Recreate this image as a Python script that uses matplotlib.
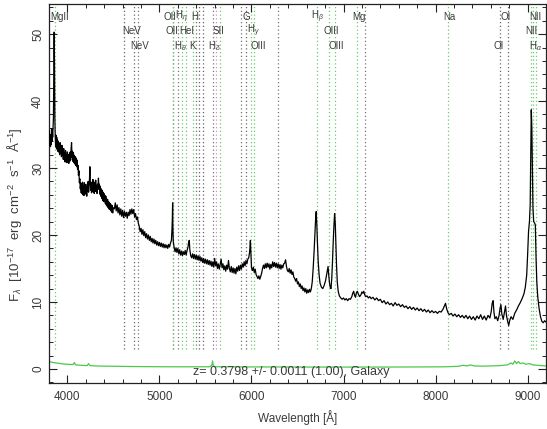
import matplotlib
matplotlib.use('Agg')
import matplotlib.pyplot as plt
import matplotlib.transforms as mtransforms
from matplotlib.ticker import MultipleLocator
import numpy as np

plt.rcParams['font.family'] = ['Liberation Sans', 'DejaVu Sans']
plt.rcParams['mathtext.fontset'] = 'custom'
plt.rcParams['mathtext.rm'] = 'Liberation Sans'
plt.rcParams['mathtext.it'] = 'Liberation Sans:italic'

# --- data ---
redshift = 0.3798
z_text = 'z= 0.3798 +/- 0.0011 (1.00), Galaxy'

# blue end of the spectrum (noisy)
wave_blue = [3800, 3804, 3808, 3812, 3816, 3820, 3824, 3828, 3832, 3836, 3840, 3844, 3848, 3852, 3856,
             3860, 3864, 3868, 3872, 3876, 3880, 3884, 3888, 3892, 3896, 3900, 3905, 3910, 3915, 3920,
             3925, 3930, 3935, 3940, 3945, 3950, 3955, 3960, 3965, 3970, 3975, 3980, 3985, 3990, 3995,
             4000, 4005, 4010, 4015, 4020, 4025, 4030, 4035, 4040, 4045, 4050, 4055, 4060, 4065, 4070,
             4075, 4080, 4085, 4090, 4095, 4100, 4105, 4110, 4115, 4120, 4125, 4130, 4135, 4140, 4145,
             4150, 4155, 4160, 4165, 4170, 4175, 4180, 4185, 4190, 4195, 4200, 4205, 4210, 4215, 4220,
             4225, 4230, 4235, 4240, 4244, 4248, 4252, 4257, 4262, 4267, 4272, 4277, 4282, 4287, 4292,
             4297, 4302, 4307, 4312, 4317, 4322, 4327, 4332, 4337, 4342, 4347, 4352, 4357, 4362, 4367,
             4372, 4377, 4382, 4387, 4392, 4397, 4402, 4407, 4412, 4417, 4422, 4427, 4432, 4437, 4442,
             4447, 4452, 4457, 4462, 4467, 4472, 4477, 4482, 4487, 4492, 4497]
flux_blue = [34.2, 35.6, 33.4, 35.0, 33.2, 34.8, 33.5, 35.9, 34.0, 35.4, 34.6, 36.2, 37.5, 44.0, 50.3,
             45.0, 37.0, 34.6, 33.2, 34.9, 33.0, 34.6, 32.8, 34.2, 32.5, 34.0, 32.4, 33.6, 32.0, 33.8,
             32.3, 33.1, 31.7, 33.4, 31.9, 32.7, 31.3, 32.9, 31.5, 32.2, 30.9, 32.6, 31.2, 32.0, 30.8,
             32.4, 31.0, 31.9, 30.7, 32.1, 31.0, 32.4, 31.2, 32.9, 33.8, 31.6, 32.5, 31.0, 32.3, 30.8,
             31.9, 30.6, 31.7, 30.4, 31.5, 30.2, 31.2, 29.8, 30.4, 28.9, 29.6, 27.8, 28.4, 26.9, 27.8,
             26.3, 27.6, 26.2, 27.9, 26.0, 27.4, 25.9, 27.8, 26.4, 27.5, 26.1, 27.2, 25.8, 27.6, 26.5,
             28.0, 26.4, 27.3, 28.4, 30.2, 28.0, 26.7, 27.9, 26.3, 27.7, 26.6, 28.3, 26.4, 27.5, 26.2,
             27.9, 26.5, 28.2, 26.7, 27.4, 26.2, 27.6, 26.8, 28.5, 27.0, 27.6, 26.1, 27.3, 25.8, 26.9,
             25.5, 26.7, 25.2, 26.4, 25.0, 26.2, 25.1, 25.9, 24.7, 25.8, 24.5, 25.4, 24.3, 25.3, 24.1,
             25.0, 23.9, 24.8, 23.8, 24.7, 23.6, 24.5, 23.4, 24.4, 23.3, 24.1]

# middle part: OII, H-gamma, H-beta and OIII
wave_mid = [4510, 4520, 4530, 4540, 4550, 4560, 4570, 4580, 4590, 4600, 4610, 4620, 4630, 4640, 4650,
            4660, 4670, 4680, 4690, 4700, 4710, 4720, 4730, 4740, 4750, 4760, 4770, 4780, 4790, 4800,
            4810, 4820, 4830, 4840, 4850, 4860, 4870, 4880, 4890, 4900, 4910, 4920, 4930, 4940, 4950,
            4960, 4970, 4980, 4990, 5000, 5010, 5020, 5030, 5040, 5050, 5060, 5070, 5080, 5090, 5100,
            5110, 5120, 5130, 5136, 5140, 5143, 5146, 5150, 5160, 5170, 5180, 5190, 5200, 5210, 5220,
            5230, 5240, 5250, 5260, 5270, 5280, 5290, 5300, 5310, 5318, 5324, 5330, 5340, 5350, 5360,
            5370, 5380, 5390, 5400, 5410, 5420, 5430, 5440, 5450, 5460, 5470, 5480, 5490, 5500, 5510,
            5520, 5530, 5540, 5550, 5560, 5570, 5580, 5590, 5600, 5610, 5620, 5630, 5640, 5650, 5660,
            5670, 5680, 5690, 5700, 5710, 5720, 5730, 5740, 5750, 5760, 5770, 5780, 5790, 5800, 5810,
            5820, 5830, 5840, 5850, 5860, 5870, 5880, 5890, 5900, 5910, 5920, 5930, 5940, 5950, 5960,
            5970, 5980, 5988, 5994, 6000, 6010, 6020, 6030, 6040, 6050, 6060, 6070, 6080, 6090, 6100,
            6110, 6120, 6130, 6140, 6150, 6160, 6170, 6180, 6190, 6200, 6210, 6220, 6230, 6240, 6250,
            6260, 6270, 6280, 6290, 6300, 6310, 6320, 6330, 6340, 6350, 6360, 6370, 6380, 6390, 6400,
            6410, 6420, 6430, 6440, 6450, 6460, 6470, 6480, 6490, 6500, 6510, 6520, 6530, 6540, 6550,
            6560, 6570, 6580, 6590, 6600, 6610, 6620, 6630, 6640, 6650, 6660, 6670, 6680, 6690, 6696,
            6703, 6710, 6716, 6725, 6735, 6745, 6760, 6775, 6790, 6805, 6818, 6826, 6832, 6838, 6846,
            6855, 6864, 6872, 6880, 6888, 6896, 6903, 6910, 6916, 6924, 6932, 6942, 6955, 6970, 6985]
flux_mid = [23.9, 24.8, 23.6, 24.5, 23.3, 24.1, 23.0, 23.9, 22.8, 23.7, 22.6, 23.5, 22.8, 23.4, 22.5,
            23.4, 22.9, 23.8, 23.1, 23.9, 23.2, 23.8, 22.7, 23.2, 22.3, 22.7, 21.8, 21.3, 20.5, 21.0,
            20.1, 20.8, 19.9, 20.5, 19.6, 20.2, 19.4, 20.0, 19.2, 19.8, 19.0, 19.5, 18.8, 19.4, 18.7,
            19.2, 18.5, 19.0, 18.4, 18.9, 18.3, 18.8, 18.2, 18.7, 18.1, 18.6, 18.1, 18.5, 18.0, 18.6,
            18.2, 18.8, 19.2, 20.8, 22.5, 24.8, 21.0, 19.0, 18.1, 17.5, 18.1, 17.4, 18.0, 17.2, 17.8,
            17.0, 17.6, 16.9, 17.5, 17.1, 17.7, 17.0, 17.7, 18.2, 19.0, 19.2, 17.8, 16.9, 16.6, 17.2,
            16.5, 17.1, 16.4, 17.0, 16.3, 16.9, 16.2, 16.8, 16.1, 16.6, 15.9, 16.5, 15.8, 16.4, 15.7,
            16.3, 15.6, 16.2, 15.5, 16.1, 15.3, 16.0, 15.2, 16.5, 15.4, 16.0, 15.0, 15.7, 14.9, 15.6,
            16.4, 15.1, 15.7, 14.8, 15.4, 14.6, 15.5, 14.9, 16.2, 15.0, 14.5, 15.3, 14.4, 15.1, 14.3,
            15.0, 14.2, 15.2, 14.6, 15.4, 14.7, 15.5, 14.9, 15.7, 15.2, 16.0, 15.4, 16.2, 15.7, 16.4,
            16.6, 17.5, 19.2, 17.0, 15.1, 14.7, 15.2, 14.4, 14.9, 14.1, 13.8, 13.5, 13.9, 13.4, 13.8,
            14.3, 15.0, 15.5, 15.0, 15.7, 15.1, 15.8, 15.2, 15.7, 14.9, 15.6, 15.1, 16.0, 15.3, 15.9,
            15.2, 15.8, 15.1, 15.7, 15.0, 15.6, 14.9, 15.5, 15.1, 15.7, 15.8, 16.3, 15.3, 14.7, 14.5,
            15.0, 14.3, 14.8, 14.1, 14.5, 13.7, 13.5, 13.1, 13.5, 12.7, 13.0, 12.3, 12.7, 12.0, 12.4,
            11.7, 12.1, 11.5, 12.0, 11.3, 11.8, 11.4, 11.9, 11.5, 12.0, 13.0, 15.0, 17.5, 20.5, 22.2,
            23.5, 21.5, 19.0, 16.0, 14.0, 12.8, 12.2, 12.0, 12.5, 13.2, 14.2, 14.8, 15.3, 14.2, 13.0,
            12.2, 12.0, 13.5, 16.0, 19.0, 21.5, 23.2, 21.8, 19.0, 15.5, 13.0, 11.6, 10.9, 10.6, 10.4]

# red part out to H-alpha / NII
wave_red = [7000, 7015, 7030, 7045, 7060, 7075, 7090, 7100, 7110, 7120, 7130, 7140, 7150, 7160, 7175,
            7190, 7200, 7210, 7220, 7230, 7240, 7255, 7270, 7285, 7300, 7320, 7340, 7360, 7380, 7400,
            7420, 7440, 7460, 7480, 7500, 7520, 7540, 7560, 7580, 7600, 7620, 7640, 7660, 7680, 7700,
            7720, 7740, 7760, 7780, 7800, 7820, 7840, 7860, 7880, 7900, 7920, 7940, 7960, 7980, 8000,
            8020, 8040, 8060, 8080, 8095, 8108, 8120, 8135, 8150, 8170, 8190, 8210, 8230, 8250, 8270,
            8290, 8310, 8330, 8350, 8370, 8390, 8410, 8430, 8450, 8470, 8490, 8510, 8530, 8550, 8570,
            8590, 8605, 8615, 8625, 8635, 8645, 8660, 8675, 8690, 8700, 8710, 8720, 8735, 8750, 8760,
            8770, 8785, 8795, 8805, 8820, 8840, 8860, 8880, 8900, 8920, 8940, 8960, 8975, 8990, 9000,
            9010, 9020, 9028, 9034, 9040, 9046, 9052, 9058, 9066, 9076, 9084, 9092, 9100, 9110, 9125,
            9140, 9155, 9170, 9185, 9200]
flux_red = [10.6, 10.3, 10.5, 10.2, 10.5, 10.4, 10.8, 11.3, 11.6, 11.0, 10.7, 11.4, 11.6, 11.2, 10.8,
            11.1, 11.5, 11.3, 11.6, 11.1, 10.8, 10.9, 10.6, 10.8, 10.5, 10.7, 10.3, 10.6, 10.2, 10.4,
            9.9, 10.2, 9.7, 10.0, 9.6, 9.8, 9.4, 9.9, 9.5, 9.7, 9.3, 9.6, 9.2, 9.4, 9.0,
            9.3, 8.9, 9.2, 8.8, 9.1, 8.7, 9.0, 8.6, 8.9, 8.5, 8.8, 8.4, 8.7, 8.4, 8.6,
            8.3, 8.6, 8.5, 8.9, 9.4, 9.8, 9.0, 8.4, 8.1, 8.3, 7.9, 8.2, 7.8, 8.1, 7.7,
            8.0, 7.6, 8.0, 7.5, 7.9, 7.4, 7.8, 7.3, 7.9, 7.5, 8.1, 7.4, 7.9, 7.3, 8.0,
            7.6, 8.6, 9.8, 10.2, 8.4, 7.5, 7.8, 7.2, 8.0, 9.0, 9.6, 8.2, 7.4, 8.6, 9.4,
            8.0, 7.0, 6.5, 7.2, 7.8, 7.4, 8.3, 8.8, 9.4, 9.9, 10.5, 11.2, 12.2, 14.0, 17.0,
            20.5, 22.0, 24.5, 31.0, 38.7, 36.0, 30.0, 24.0, 22.0, 21.8, 21.5, 16.5, 13.0, 10.8, 9.0,
            7.8, 7.1, 6.9, 7.2, 7.0]

err_wave = [3800, 3850, 3900, 3950, 4000, 4060, 4075, 4090, 4150, 4215, 4230, 4245, 4300, 4400, 4600,
            4800, 5000, 5200, 5400, 5550, 5570, 5577, 5585, 5600, 5800, 6000, 6300, 6600, 7000, 7400,
            7800, 8100, 8250, 8300, 8340, 8380, 8420, 8500, 8600, 8700, 8780, 8820, 8840, 8860, 8880,
            8900, 8920, 8950, 8980, 9020, 9060, 9100, 9150, 9200]
err = [1.1, 0.95, 0.85, 0.75, 0.7, 0.65, 0.95, 0.6, 0.55, 0.5, 0.8, 0.5, 0.45, 0.42, 0.38,
       0.35, 0.33, 0.32, 0.32, 0.33, 0.6, 1.2, 0.5, 0.33, 0.32, 0.3, 0.3, 0.28, 0.28, 0.28,
       0.3, 0.32, 0.4, 0.55, 0.45, 0.6, 0.45, 0.42, 0.45, 0.5, 0.6, 0.9, 0.7, 1.2, 0.8,
       1.1, 0.8, 0.9, 0.7, 0.8, 0.6, 0.55, 0.5, 0.45]

line_names = ['MgII', 'NeV', 'NeV', 'OII', 'OII', r'H$_\theta$', r'H$_\eta$', 'HeI', 'K', 'H', 'SII',
              r'H$_\delta$', 'G', r'H$_\gamma$', 'OIII', r'H$_\beta$', 'OIII', 'OIII', 'Mg', 'Na',
              'OI', 'OI', 'NII', r'H$_\alpha$', 'NII']
line_rest = [2799.1, 3346.8, 3426.8, 3727.1, 3729.9, 3798.9, 3836.5, 3889.0, 3934.8, 3969.6, 4072.3,
             4102.9, 4305.6, 4341.7, 4364.4, 4862.7, 4960.3, 5008.2, 5176.7, 5895.6,
             6302.0, 6365.5, 6549.9, 6564.6, 6585.3]
line_row = [1, 2, 3, 1, 2, 3, 1, 2, 3, 1, 2, 3, 1, 2, 3, 1, 2, 3, 1, 1, 3, 1, 1, 3, 2]
line_kind = ['e', 'a', 'a', 'a', 'e', 'e', 'e', 'e', 'a', 'a', 's', 'e', 'a', 'e', 'e', 'e', 'e', 'e',
             'e', 'e', 'a', 'a', 'e', 'e', 'e']
extra_rest = [3455.0, 3771.0, 3910.0, 4046.0, 4266.0, 4560.0, 5246.0]

wave = wave_blue + wave_mid + wave_red
flux = flux_blue + flux_mid + flux_red

# --- plot ---
fig = plt.figure(figsize=(5.47, 4.29), dpi=100)
ax = fig.add_axes([0.0896, 0.1072, 0.9086, 0.8835])

txtc = '#3a3a3a'
kind_col = {'e': '#6ccc6c', 'a': '#666666', 's': '#d890c8'}
lab_dx = [-4, -2, -4, -9, -7, -8, -11, -14, -10, -12, -4, -12, -4, -4, -3, -6, -6, -7, -4, -5,
          -6, -7, -2, -4, -10]
row_y = {1: 0.966, 2: 0.929, 3: 0.890}

trans = mtransforms.blended_transform_factory(ax.transData, ax.transAxes)
for name, rest, row, kind, dx in zip(line_names, line_rest, line_row, line_kind, lab_dx):
    lw = rest * (1 + redshift)
    ax.axvline(lw, ymin=0.09, ymax=1, color=kind_col[kind], ls=(0, (1, 2)), lw=0.9, zorder=1)
    tt = mtransforms.offset_copy(trans, fig=fig, x=dx, y=0, units='dots')
    ax.text(lw, row_y[row], name, transform=tt, ha='left', va='center', fontsize=7, color=txtc)
for rest in extra_rest:
    ax.axvline(rest * (1 + redshift), ymin=0.09, ymax=1, color='#777777', ls=(0, (1, 2)),
               lw=0.9, zorder=1)

ax.plot(wave, flux, color='black', lw=0.9, zorder=3)
ax.plot(err_wave, err, color='#4cc84c', lw=0.9, zorder=2)

ax.text(0.488, 0.03, z_text, transform=ax.transAxes, ha='center', va='center',
        fontsize=9, color=txtc)

ax.set_xlim(3800, 9200)
ax.set_ylim(-2.1, 54.5)
ax.xaxis.set_major_locator(MultipleLocator(1000))
ax.xaxis.set_minor_locator(MultipleLocator(200))
ax.yaxis.set_major_locator(MultipleLocator(10))
ax.yaxis.set_minor_locator(MultipleLocator(2))
ax.tick_params(which='both', direction='in', top=True, right=True, color='#222222',
               labelcolor=txtc, labelsize=8.5)
ax.tick_params(which='major', length=6, width=0.8)
ax.tick_params(which='minor', length=3, width=0.7)
ax.tick_params(axis='x', pad=6)
for lab in ax.get_yticklabels():
    lab.set_rotation(90)
    lab.set_va('center')
for s in ax.spines.values():
    s.set_color('#222222')
    s.set_linewidth(0.9)

ax.set_xlabel('Wavelength [Å]', fontsize=8.5, color=txtc, labelpad=5)
ax.set_ylabel(r'F$_\lambda$  [10$^{-17}$  erg  cm$^{-2}$  s$^{-1}$  Å$^{-1}$]', fontsize=9.5,
              color=txtc)
ax.yaxis.set_label_coords(-0.05, 0.443)

fig.savefig('out.png', dpi=100)
